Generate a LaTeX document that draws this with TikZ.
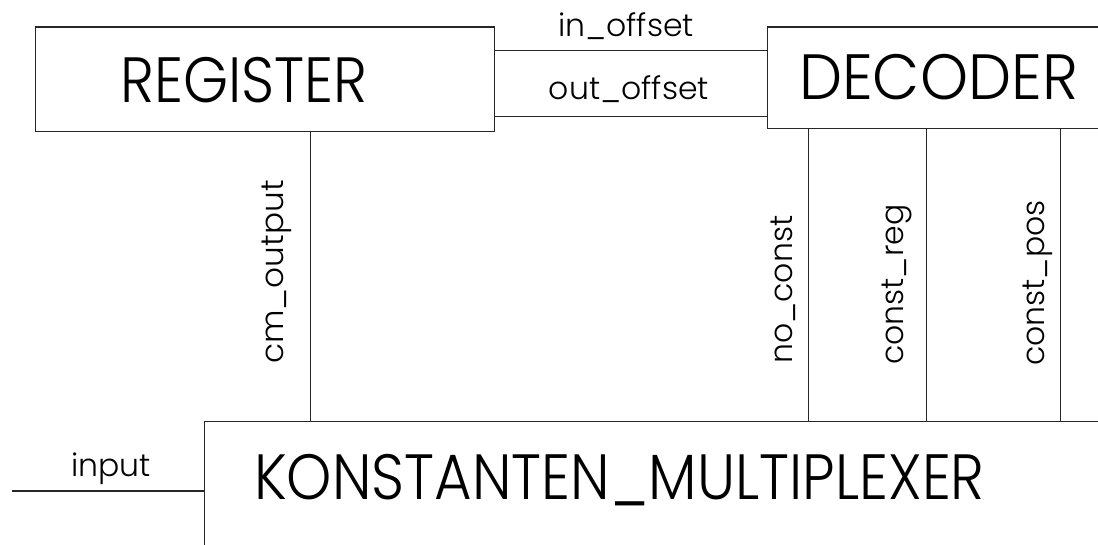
\documentclass[tikz,border=0pt]{standalone}
\usepackage{fontspec}
\setmainfont{Poppins Light}
% block titles are set a little taller than the face's own proportions
\newcommand{\blocktitle}[2]{\scalebox{#1}[1.13]{#2}}
\begin{document}
\begin{tikzpicture}[x=1pt,y=-1pt,
  blk/.style={draw=black!85, line width=1.2pt, inner sep=0pt, anchor=north west},
  wire/.style={draw=black!85, line width=1.2pt},
  big/.style={inner sep=0pt, anchor=base, font=\fontsize{56.6}{60}\selectfont},
  lbl/.style={inner sep=0pt, anchor=base, font=\fontsize{31.5}{36}\selectfont},
  vlbl/.style={lbl, rotate=90, anchor=base west}]
\useasboundingbox (0,0) rectangle (1098,545);
\clip (0,0) rectangle (1098,545);

% blocks
\node[blk, minimum width=459pt, minimum height=104.5pt] (reg) at (35,26.5) {};
\node[blk, minimum width=360pt, minimum height=101.5pt] (dec) at (767,26.5) {};
\node[blk, minimum width=920pt, minimum height=150pt] (kon) at (204,420.5) {};

% block titles
\node[big] (regt) at (244,103) {\blocktitle{1.02}{REGISTER}};
\node[big] (dect) at (938.5,100) {\blocktitle{1.08}{DECODER}};
\node[big] (kont) at (619.5,499) {\blocktitle{1.017}{KONSTANTEN\_MULTIPLEXER}};

% horizontal signals
\draw[wire] (reg.east |- 0,50.5) -- (dec.west |- 0,50.5);
\draw[wire] (reg.east |- 0,116.5) -- (dec.west |- 0,116.5);
\coordinate (src) at (12,491);
\draw[wire] (src) -- (kon.west |- src);

\node[lbl] (inoff) at (626,36.7) {in\_offset};
\node[lbl] (outoff) at (629,100) {out\_offset};
\node[lbl] (inp) at (111,476.7) {input};

% vertical signals
\draw[wire] (reg.south -| 310.5,0) -- (kon.north -| 310.5,0);
\draw[wire] (dec.south -| 808.5,0) -- (kon.north -| 808.5,0);
\draw[wire] (dec.south -| 926.5,0) -- (kon.north -| 926.5,0);
\draw[wire] (dec.south -| 1060.5,0) -- (kon.north -| 1060.5,0);

\node[vlbl] (cmo) at (283,364) {\scalebox{1.04}[1]{cm\_output}};
\node[vlbl] (noc) at (792,364) {no\_const};
\node[vlbl] (cre) at (903,365) {const\_reg};
\node[vlbl] (cpo) at (1044,366) {const\_pos};
\end{tikzpicture}
\end{document}
